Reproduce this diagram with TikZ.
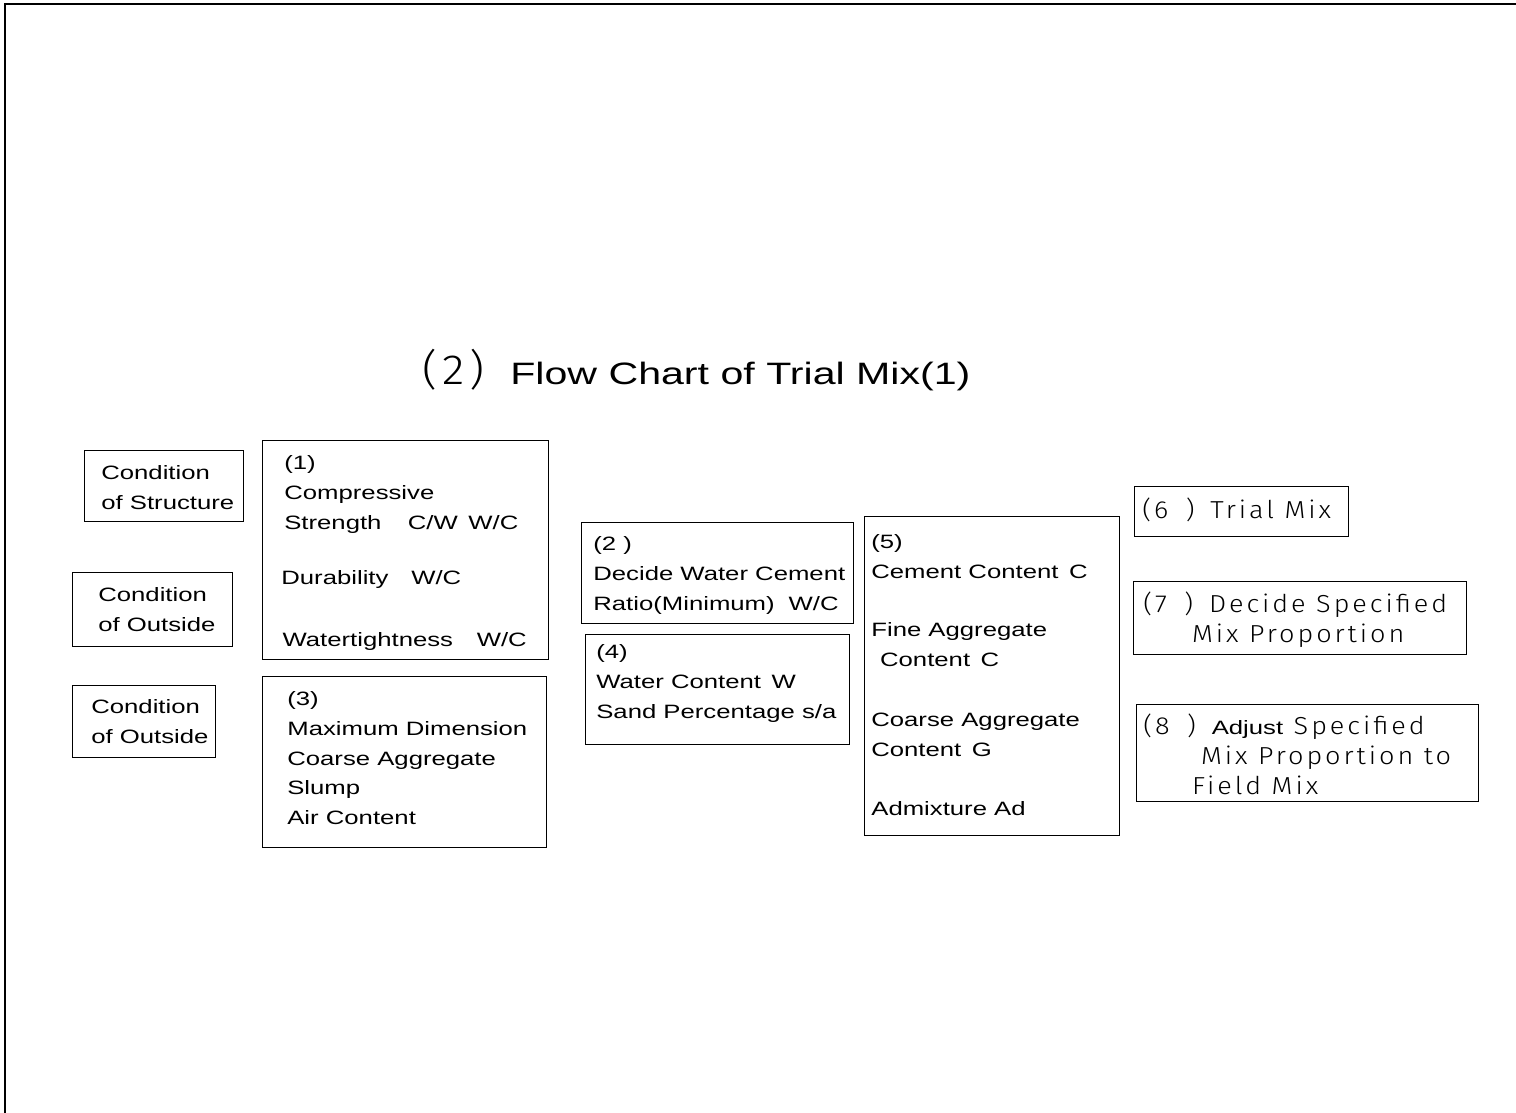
\documentclass[tikz,border=0pt]{standalone}
\usepackage{fontspec}
\setmainfont{Liberation Sans}[FakeStretch=1.33]
\newfontfamily\cadfont{Fira Sans Light}[FakeStretch=1.1,LetterSpace=12]
\newcommand\bodyfont{\normalfont\fontsize{11}{17}\selectfont}
\usetikzlibrary{positioning}

\begin{document}
\begin{tikzpicture}[
  x=0.02cm, y=-0.02cm,
  font=\bodyfont,
  box/.style 2 args={draw,line width=0.7pt,inner sep=0pt,anchor=north west,
                     minimum width=#1*0.02cm,minimum height=#2*0.02cm},
  txt/.style={anchor=north west,inner sep=0pt,align=left},
  cad/.style={txt,font=\cadfont\fontsize{14}{17}\selectfont}
]
\useasboundingbox (0,0) rectangle (1516,1113);
\draw[line width=1.2pt] (5,1113) -- (5,4) -- (1516,4);

\node[anchor=base west,inner sep=0pt,font=\fontsize{17.6}{20}\selectfont]
  (title) at (510,384) {Flow Chart of Trial Mix(1)};
\node[anchor=base east,inner sep=0pt,font=\cadfont\fontsize{24}{26}\selectfont]
  (titlenum) at ([shift={(-25,0)}]title.base west) {(2)};

\node[box={159}{71}] (cs) at (84,450) {};
\node[txt] (cstext) at ([shift={(17,15)}]cs.north west) {Condition\\of Structure};
\node[box={160}{74}] (co1) at (72,572) {};
\node[txt] (co1text) at ([shift={(26,15)}]co1.north west) {Condition\\of Outside};
\node[box={143}{72}] (co2) at (72,685) {};
\node[txt] (co2text) at ([shift={(19,14)}]co2.north west) {Condition\\of Outside};

\node[box={286}{219}] (b1) at (262,440) {};
\node[txt] (b1text) at ([shift={(22,15)}]b1.north west)
  {(1)\\Compressive\\Strength\hspace{15pt}C/W\hspace{6pt}W/C\\[14.7pt]
   \hspace*{-1.7pt}Durability\hspace{13pt}W/C\\[18pt]
   \hspace*{-1pt}Watertightness\hspace{13.5pt}W/C};
\node[box={284}{171}] (b3) at (262,676) {};
\node[txt] (b3text) at ([shift={(25,15)}]b3.north west)
  {(3)\\Maximum Dimension\\Coarse Aggregate\\Slump\\Air Content};

\node[box={272}{101}] (b2) at (581,522) {};
\node[txt] (b2text) at ([shift={(12,14)}]b2.north west)
  {(2 )\\Decide Water Cement\\Ratio(Minimum)\hspace{8pt}W/C};
\node[box={264}{110}] (b4) at (585,634) {};
\node[txt] (b4text) at ([shift={(11,10)}]b4.north west)
  {(4)\\Water Content\hspace{6pt}W\\Sand Percentage s/a};

\node[box={255}{319}] (b5) at (864,516) {};
\node[txt] (b5text) at ([shift={(7,18)}]b5.north west)
  {(5)\\Cement Content\hspace{6pt}C\\[16.4pt]
   Fine Aggregate\\\hspace*{5pt}Content\hspace{6pt}C\\[17pt]
   Coarse Aggregate\\Content\hspace{6pt}G\\[16.4pt]
   Admixture Ad};

\node[box={214}{50}] (b6) at (1134,486) {};
\node[cad] (b6text) at ([shift={(8,12)}]b6.north west) {(6\hspace{10pt})\hspace{9pt}Trial Mix};
\node[box={333}{73}] (b7) at (1133,581) {};
\node[cad] (b7text) at ([shift={(10,11)}]b7.north west)
  {(7\hspace{10pt})\hspace{9pt}Decide Specified\\\hspace*{27.8pt}Mix Proportion};
\node[box={342}{97}] (b8) at (1136,704) {};
\node[cad] (b8text) at ([shift={(7,10)}]b8.north west)
  {(8\hspace{10pt})\hspace{9pt}{\bodyfont Adjust} Specified\\
   \hspace*{32.9pt}Mix Proportion to\\
   \hspace*{27.8pt}Field Mix};
\end{tikzpicture}
\end{document}
